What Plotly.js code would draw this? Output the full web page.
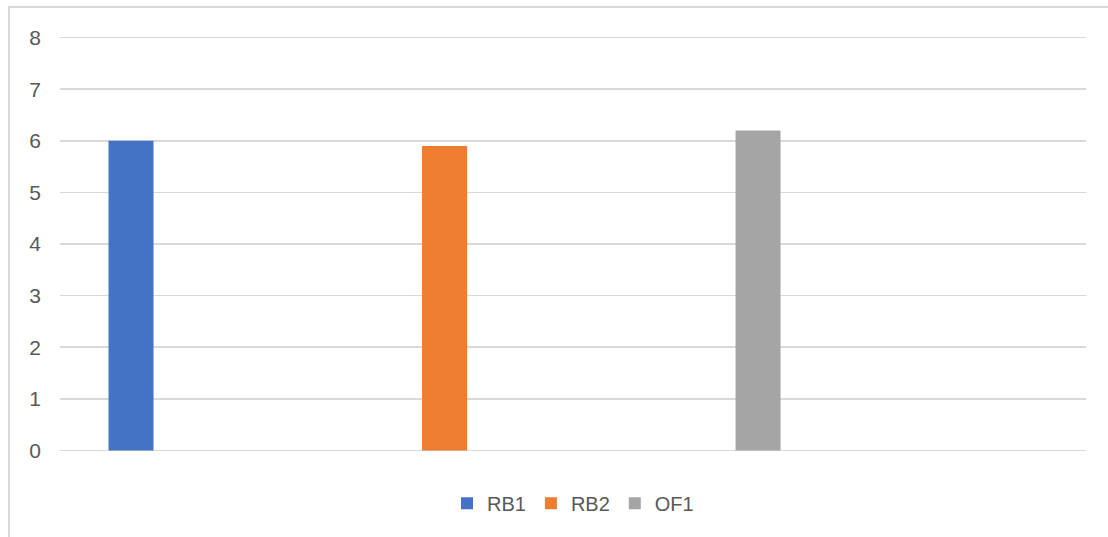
<!DOCTYPE html>
<html>
<head>
<meta charset="utf-8">
<script src="https://cdn.plot.ly/plotly-3.0.1.min.js"></script>
<style>
  html, body { margin: 0; padding: 0; background: #fff; }
  #wrap { position: relative; width: 1108px; height: 537px; }
  #chart { position: absolute; left: 0; top: 0; width: 1108px; height: 537px; }
  #frame { position: absolute; left: 8px; top: 6px; right: 0; bottom: 0;
           border-left: 2px solid #d9d9d9; border-top: 2px solid #d9d9d9; pointer-events: none; }
</style>
</head>
<body>
<div id="wrap">
  <div id="chart"></div>
  <div id="frame"></div>
</div>
<script>
const seriesNames = ["RB1", "RB2", "OF1"];
const seriesValues = [6.0, 5.9, 6.2];
const seriesColors = ["#4472C4", "#ED7D31", "#A5A5A5"];
const yTicks = [0, 1, 2, 3, 4, 5, 6, 7, 8];

const traces = seriesNames.map((name, i) => ({
  type: "bar",
  name: name,
  x: [name],
  y: [seriesValues[i]],
  width: 0.1435,
  marker: { color: seriesColors[i] },
  hoverinfo: "skip"
}));

const layout = {
  width: 1108,
  height: 537,
  margin: { l: 60, r: 22, t: 35.5, b: 84.5, autoexpand: false },
  paper_bgcolor: "#ffffff",
  plot_bgcolor: "#ffffff",
  font: { family: "Liberation Sans, Arial, sans-serif", color: "#595959", size: 20 },
  showlegend: true,
  barmode: "overlay",
  xaxis: {
    type: "category",
    categoryorder: "array",
    categoryarray: seriesNames,
    range: [-0.2265, 3.046],
    showticklabels: false,
    showgrid: false,
    zeroline: false,
    showline: false,
    ticks: ""
  },
  yaxis: {
    range: [-0.03, 8.03],
    tickvals: yTicks,
    ticktext: yTicks.map(String),
    showgrid: true,
    gridcolor: "#d9d9d9",
    gridwidth: 1.5,
    zeroline: false,
    showline: false,
    ticks: "",
    ticklabelstandoff: 18,
    tickfont: { size: 21, color: "#595959" }
  },
  legend: {
    orientation: "h",
    x: 0.5,
    xanchor: "center",
    yref: "container",
    y: 0.063,
    yanchor: "middle",
    font: { size: 20, color: "#595959" },
    itemwidth: 30,
    traceorder: "normal"
  }
};

Plotly.newPlot("chart", traces, layout, { displayModeBar: false, staticPlot: true });
</script>
</body>
</html>
